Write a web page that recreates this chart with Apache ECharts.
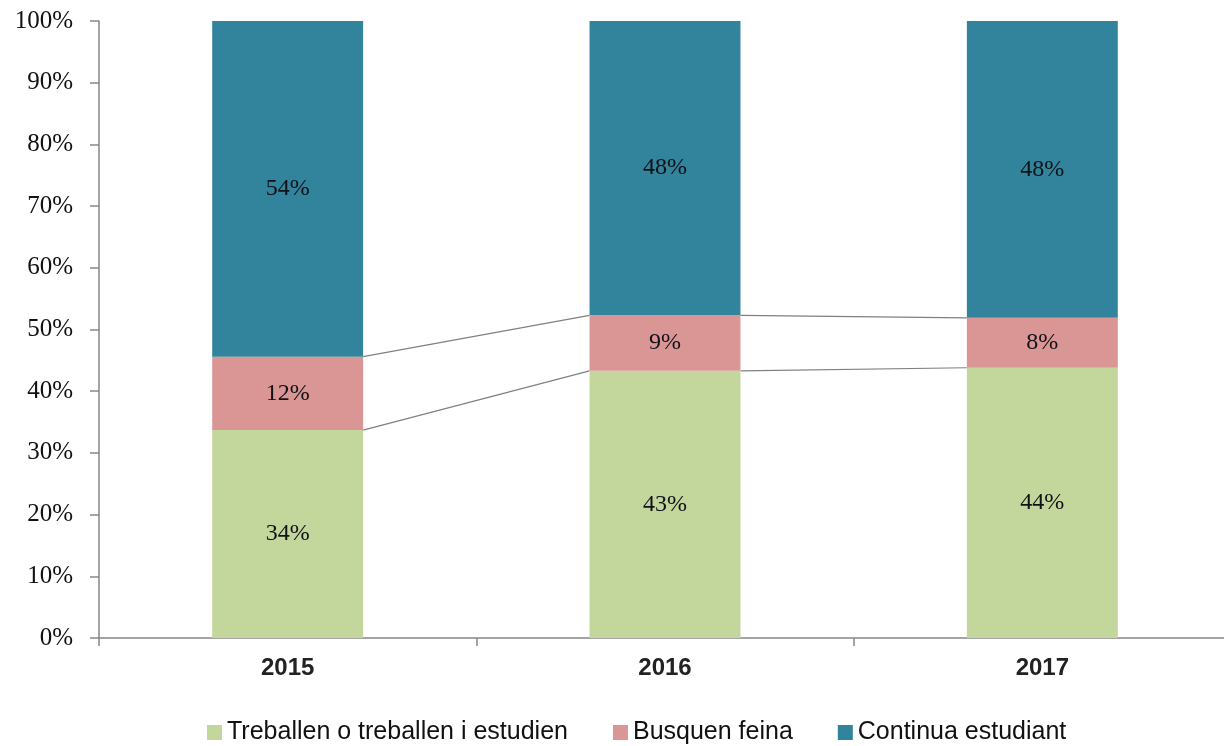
<!DOCTYPE html>
<html>
<head>
<meta charset="utf-8">
<script src="https://cdn.jsdelivr.net/npm/echarts@6/dist/echarts.min.js"></script>
<style>
html,body{margin:0;padding:0;background:#fff;overflow:hidden;}
#c{width:1224px;height:746px;}
</style>
</head>
<body>
<div id="c"></div>
<script>
var categories = ['2015', '2016', '2017'];
var seriesNames = ['Treballen o treballen i estudien', 'Busquen feina', 'Continua estudiant'];
var treballen = [33.7, 43.3, 43.8];
var busquen = [11.9, 9.0, 8.1];
var continua = [54.4, 47.7, 48.1];
var yTicks = [0, 10, 20, 30, 40, 50, 60, 70, 80, 90, 100];

var colors = ['#C3D69B', '#D99694', '#31849B'];

// series-line data: for each adjacent pair of categories, the two cumulative boundaries
var seriesLineData = [];
for (var i = 0; i < categories.length - 1; i++) {
  seriesLineData.push([
    i,
    treballen[i], treballen[i + 1],
    treballen[i] + busquen[i], treballen[i + 1] + busquen[i + 1]
  ]);
}

var labelStyle = {
  show: true,
  position: 'inside',
  fontFamily: 'Liberation Serif',
  fontSize: 24,
  color: '#111118',
  formatter: function (p) { return Math.round(p.value) + '%'; }
};

function barSeries(name, data, color) {
  return {
    name: name,
    type: 'bar',
    stack: 'total',
    barWidth: '40%',
    data: data,
    itemStyle: { color: color },
    label: labelStyle,
    emphasis: { disabled: true }
  };
}

var chart = echarts.init(document.getElementById('c'), null, { renderer: 'canvas' });
chart.setOption({
  animation: false,
  backgroundColor: '#ffffff',
  color: colors,
  grid: { left: 99, width: 1132, top: 21, bottom: 108, containLabel: false, outerBoundsMode: 'none' },
  legend: {
    data: seriesNames,
    left: 202,
    top: 715,
    itemWidth: 15,
    itemHeight: 15,
    itemGap: 45,
    icon: 'rect',
    textStyle: { fontFamily: 'Liberation Sans', fontSize: 25, color: '#111' }
  },
  xAxis: {
    type: 'category',
    data: categories,
    boundaryGap: true,
    axisLine: { lineStyle: { color: '#868686', width: 1.5 } },
    axisTick: { show: true, alignWithLabel: false, length: 8, lineStyle: { color: '#868686', width: 1.5 } },
    axisLabel: { margin: 18, fontFamily: 'Liberation Sans', fontWeight: 'bold', fontSize: 24, color: '#222' }
  },
  yAxis: {
    type: 'value',
    min: 0,
    max: 100,
    interval: 10,
    axisLine: { show: true, lineStyle: { color: '#868686', width: 1.5 } },
    axisTick: { show: true, length: 9, lineStyle: { color: '#868686', width: 1.5 } },
    splitLine: { show: false },
    axisLabel: {
      margin: 26,
      fontFamily: 'Liberation Serif',
      fontSize: 25,
      color: '#111',
      formatter: function (v) { return yTicks.indexOf(v) >= 0 ? v + '%' : ''; }
    }
  },
  series: [
    barSeries(seriesNames[0], treballen, colors[0]),
    barSeries(seriesNames[1], busquen, colors[1]),
    barSeries(seriesNames[2], continua, colors[2]),
    {
      type: 'custom',
      name: 'serieslines',
      silent: true,
      data: seriesLineData,
      encode: { x: 0, y: [1, 2, 3, 4] },
      z: 1,
      renderItem: function (params, api) {
        var idx = api.value(0);
        var band = api.size([1, 0])[0];
        var half = band * 0.2;
        var children = [];
        for (var k = 0; k < 2; k++) {
          var a = api.coord([idx, api.value(1 + 2 * k)]);
          var b = api.coord([idx + 1, api.value(2 + 2 * k)]);
          children.push({
            type: 'line',
            shape: { x1: a[0] + half, y1: a[1], x2: b[0] - half, y2: b[1] },
            style: { stroke: '#808080', lineWidth: 1.2 }
          });
        }
        return { type: 'group', children: children };
      }
    }
  ]
});
</script>
</body>
</html>
